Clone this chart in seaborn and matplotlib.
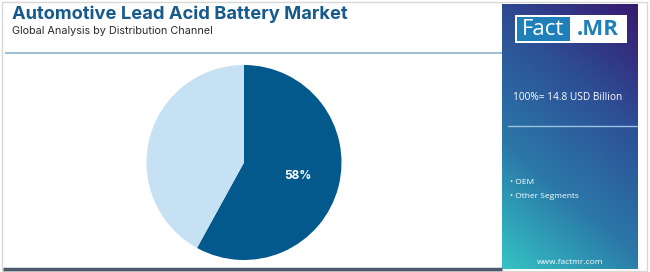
import numpy as np
import matplotlib
matplotlib.use("Agg")
import matplotlib.pyplot as plt
import seaborn as sns
from matplotlib.colors import LinearSegmentedColormap
from matplotlib.patches import Rectangle

# ---- data ----
segments = ["OEM", "Other Segments"]
shares = [58, 42]
total_label = "100%= 14.8 USD Billion"
title = "Automotive Lead Acid Battery Market"
subtitle = "Global Analysis by Distribution Channel"
pie_colors = ["#03588c", "#c5e1f3"]

sns.set_theme(style="white")
plt.rcParams['font.family'] = ['Inter', 'DejaVu Sans']

W, H = 650, 272
fig = plt.figure(figsize=(W / 100, H / 100), dpi=100)
fig.patch.set_facecolor("white")

# gradient panel (drawn first, underneath)
px0, px1, py0, py1 = 502, 637, 4, 269
pax = fig.add_axes([px0 / W, 1 - py1 / H, (px1 - px0) / W, (py1 - py0) / H])
pax.axis("off")
cmap = LinearSegmentedColormap.from_list("fm", ["#34c3c4", "#2b78a8", "#2d4f96", "#371a70"])
nx, ny = 60, 120
xx, yy = np.meshgrid(np.linspace(0, 1, nx), np.linspace(0, 1, ny))
t = 0.3 * xx + 0.7 * (1 - yy)
pax.imshow(t, cmap=cmap, aspect="auto", extent=[0, 1, 0, 1], origin="upper",
           interpolation="bilinear")
pax.set_xlim(0, 1)
pax.set_ylim(0, 1)

# pie
cx, cy, r = 244, 162.5, 97.5
ax = fig.add_axes([(cx - r) / W, 1 - (cy + r) / H, 2 * r / W, 2 * r / H])
wedges, texts, autotexts = ax.pie(
    shares, colors=pie_colors, startangle=90, counterclock=False,
    autopct=lambda p: f"{p:.0f}%" if p > 50 else "", pctdistance=0.57,
    wedgeprops=dict(linewidth=0), textprops=dict(color="white", fontsize=8.5,
                                                 fontweight="bold"))
ax.set_xlim(-1, 1)
ax.set_ylim(-1, 1)
ax.set_aspect("equal")
ax.axis("off")

# overlay axes in pixel coordinates (on top)
bg = fig.add_axes([0, 0, 1, 1])
bg.patch.set_alpha(0)
bg.set_xlim(0, W)
bg.set_ylim(H, 0)
bg.axis("off")

# outer frame
bg.add_patch(Rectangle((1.5, 1.5), W - 5, H - 3, fill=False, ec="#d8d8d8", lw=1.0))
# title rule
bg.plot([5, 502], [53, 53], color="#8fb2cc", lw=1.2, solid_capstyle="butt")
# bottom rule
bg.plot([3, 502], [269, 269], color="#4b5b6b", lw=2.5, solid_capstyle="butt")

bg.text(12, 14, title, fontsize=13.2, fontweight="bold", color="#175a8c",
        va="center", ha="left", family=["Inter", "DejaVu Sans"])
bg.text(12, 31, subtitle, fontsize=7.8, color="#2b2b2b", va="center", ha="left",
        family=["Inter", "DejaVu Sans"])

# logo
bg.add_patch(Rectangle((515, 15), 112, 28, fc="white", ec="none", zorder=3))
bg.add_patch(Rectangle((517, 17), 53, 24, fc="#1f7fb8", ec="none", zorder=4))
bg.text(543.5, 29.5, "Fact", fontsize=16, color="white", ha="center", va="center",
        zorder=5, family=["Open Sans", "DejaVu Sans"])
bg.text(598, 29.5, ".MR", fontsize=16, color="#1f7fb8", fontweight="bold",
        ha="center", va="center", zorder=5, family=["Open Sans", "DejaVu Sans"])

bg.text(513, 97, total_label, fontsize=7.3, color="white", ha="left", va="center",
        zorder=5, family=["Open Sans", "DejaVu Sans"])
bg.plot([508, 637], [125.5, 125.5], color="#9cc3e0", lw=1.0, zorder=5)

for i, name in enumerate(segments):
    bg.text(510, 183 + i * 13, "\u2022 " + name, fontsize=6.0, color="white",
            ha="left", va="center", zorder=5, family=["Open Sans", "DejaVu Sans"])

bg.text(570, 262, "www.factmr.com", fontsize=6.0, color="white", ha="center",
        va="center", zorder=5, family=["Open Sans", "DejaVu Sans"])

fig.savefig("out.png", dpi=100, facecolor="white")
